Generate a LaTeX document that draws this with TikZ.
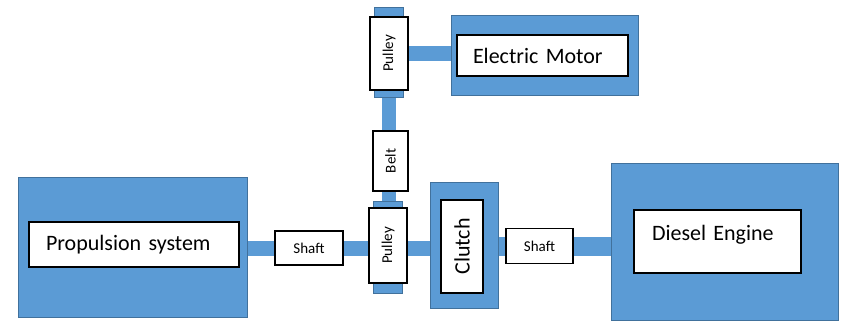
\documentclass[tikz,border=0pt]{standalone}
\usepackage{fontspec}
\setmainfont{Carlito}
\usetikzlibrary{backgrounds}
\definecolor{partblue}{HTML}{5B9BD5}
\definecolor{partedge}{HTML}{41719C}
\begin{document}
\begin{tikzpicture}[x=1pt,y=-1pt,
    outerbox/.style={draw=partedge,line width=1pt,fill=partblue,inner sep=0pt},
    innerbox/.style={draw=black,line width=1.2pt,fill=white,inner sep=0pt,font=\fontsize{22}{26}\selectfont},
    partbox/.style={draw=black,line width=1.2pt,fill=white,inner sep=0pt,font=\fontsize{15}{18}\selectfont},
    capbox/.style={fill=partblue,draw=partedge,line width=0.8pt},
    bar/.style={partblue,line width=15pt}]
  \useasboundingbox (0,0) rectangle (846,322);
  \node[outerbox,minimum width=229pt,minimum height=140pt] (prop) at (132.5,247) {};
  \node[innerbox,minimum height=45pt,text width=176pt,align=left,inner xsep=17pt] (propin) at (134,244.5) {Propulsion system};
  \node[outerbox,minimum width=187pt,minimum height=80pt] (motor) at (544.5,55) {};
  \node[innerbox,minimum height=41pt,text width=139pt,align=left,inner xsep=16pt] (motorin) at (542.5,55.5) {Electric Motor};
  \node[outerbox,minimum width=227pt,minimum height=157pt] (diesel) at (724.5,241.5) {};
  \node[innerbox,minimum height=63pt,text width=131pt,align=left,inner xsep=18pt,text height=14pt,text depth=16pt] (dieselin) at (717.5,241.5) {Diesel Engine};
  \node[outerbox,minimum width=68pt,minimum height=126pt] (clutch) at (464,245) {};
  \node[innerbox,minimum width=42pt,minimum height=93pt] (clutchin) at (462,246.5) {\rotatebox{90}{Clutch}};
  \node[partbox,minimum width=38pt,minimum height=73pt] (pulT) at (389,53.5) {\rotatebox{90}{Pulley}};
  \node[partbox,minimum width=38pt,minimum height=75pt] (pulB) at (388,245.5) {\rotatebox{90}{Pulley}};
  \node[partbox,minimum width=35pt,minimum height=60pt] (belt) at (390.5,161) {\rotatebox{90}{Belt}};
  \node[partbox,minimum width=68pt,minimum height=34pt] (shaftL) at (309,248) {Shaft};
  \node[partbox,minimum width=67pt,minimum height=35pt] (shaftR) at (539.5,246) {Shaft};
  \begin{scope}[on background layer]
    \draw[bar] (pulT) -- (pulT -| motor);
    \draw[bar,line width=14pt] (pulT) -- (pulT |- pulB);
    \draw[bar] (prop |- shaftL) -- (clutch |- shaftL);
    \draw[bar,line width=19pt] (clutch |- shaftR) -- (diesel |- shaftR);
    \filldraw[capbox] ([xshift=5pt,yshift=9pt]pulT.north west) rectangle ([xshift=-5pt,yshift=-7pt]pulT.south east);
    \filldraw[capbox] ([xshift=5pt,yshift=6pt]pulB.north west) rectangle ([xshift=-5pt,yshift=-10pt]pulB.south east);
  \end{scope}
\end{tikzpicture}
\end{document}
